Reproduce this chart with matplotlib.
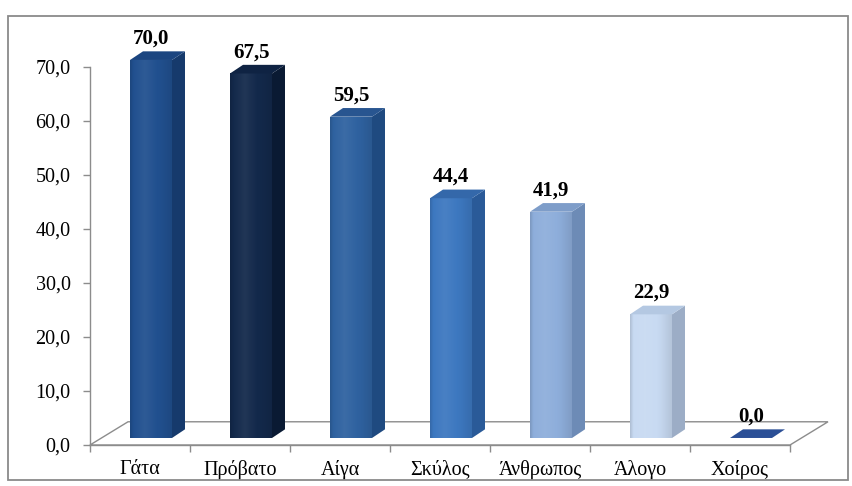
import numpy as np
import matplotlib.pyplot as plt
from matplotlib.patches import Polygon, Rectangle
from matplotlib.colors import to_rgb

plt.rcParams['font.family'] = ['Liberation Serif', 'DejaVu Serif']

categories = ['Γάτα', 'Πρόβατο', 'Αίγα', 'Σκύλος', 'Άνθρωπος', 'Άλογο', 'Χοίρος']
values = [70.0, 67.5, 59.5, 44.4, 41.9, 22.9, 0.0]
front_colors = ['#21508f', '#13294b', '#2f62a0', '#3d78c0', '#8eaedb', '#c8daf2', '#2b4f96']
side_colors = ['#163a6c', '#0a1a33', '#1f4a80', '#2a5a98', '#6d8bb6', '#9cadc6', '#1f3d78']
top_colors = ['#1b4580', '#0f2343', '#285590', '#3468aa', '#7e9dc9', '#b4c8e2', '#2b4f96']
yticks = [0, 10, 20, 30, 40, 50, 60, 70]

# pseudo-3d geometry, in data units
bar_w = 0.42
bar_ox, bar_oy = 0.11, 1.3    # shift of bar front plane from the floor front edge
bar_dx, bar_dy = 0.13, 1.6    # bar depth
floor_dx, floor_dy = 0.38, 4.3


def fmt(v):
    return f'{v:.1f}'.replace('.', ',')


def shade(c, k):
    r = np.array(to_rgb(c))
    if k >= 0:
        return r + (1 - r) * k
    return r * (1 + k)


fig = plt.figure(figsize=(8.52, 4.86), dpi=100)
ax = fig.add_axes([90 / 852, 41 / 486, 760 / 852, 405 / 486])
ax.set_xlim(0, 7.6)
ax.set_ylim(0, 75)

# chart frame
fig.add_artist(Rectangle((8 / 852, 6 / 486), 840 / 852, 464 / 486, transform=fig.transFigure,
                         fill=False, edgecolor='#8a8a8a', lw=1.3))

# floor
n = len(categories)
floor = Polygon([(0, 0), (n, 0), (n + floor_dx, floor_dy), (floor_dx, floor_dy)],
                closed=True, facecolor='white', edgecolor='#8c8c8c', lw=1.0,
                clip_on=False, zorder=1)
ax.add_patch(floor)

# horizontal gradient for front faces
gx = np.linspace(0, 1, 64)
gk = np.interp(gx, [0, 0.08, 0.35, 0.75, 1], [-0.12, 0.0, 0.06, -0.02, -0.1])

for i, (v, fc, sc, tc) in enumerate(zip(values, front_colors, side_colors, top_colors)):
    xl = i + 0.5 - bar_w / 2 + bar_ox
    xr = xl + bar_w
    y0 = bar_oy
    y1 = v + bar_oy
    if v > 0:
        front = Polygon([(xl, y0), (xr, y0), (xr, y1), (xl, y1)], closed=True,
                        facecolor=fc, edgecolor='none', clip_on=False, zorder=3)
        ax.add_patch(front)
        grad = np.array([shade(fc, k) for k in gk])[None, :, :]
        im = ax.imshow(np.clip(grad, 0, 1), extent=(xl, xr, y0, y1), aspect='auto',
                       zorder=3.1, clip_on=True)
        im.set_clip_path(front)
        side = Polygon([(xr, y0), (xr + bar_dx, y0 + bar_dy), (xr + bar_dx, y1 + bar_dy), (xr, y1)],
                       closed=True, facecolor=sc, edgecolor='none', clip_on=False, zorder=3)
        ax.add_patch(side)
    top = Polygon([(xl, y1), (xr, y1), (xr + bar_dx, y1 + bar_dy), (xl + bar_dx, y1 + bar_dy)],
                  closed=True, facecolor=tc, edgecolor='none', clip_on=False, zorder=3.2)
    ax.add_patch(top)
    ax.text((xl + xr) / 2, y1 + bar_dy + 0.5, fmt(v), ha='center', va='bottom',
            fontsize=15, fontweight='bold', color='black', zorder=5, clip_on=False)

ax.set_xlim(0, 7.6)
ax.set_ylim(0, 75)

for s in ['top', 'right']:
    ax.spines[s].set_visible(False)
ax.spines['left'].set_bounds(0, 70)
ax.spines['bottom'].set_bounds(0, n)
for s in ['left', 'bottom']:
    ax.spines[s].set_color('#8c8c8c')
    ax.spines[s].set_linewidth(1.0)

ax.set_yticks(yticks)
ax.set_yticklabels([fmt(t) for t in yticks])
ax.set_xticks(range(n + 1))
ax.set_xticklabels([])
ax.set_xticks(np.arange(n) + 0.5, minor=True)
ax.set_xticklabels(categories, minor=True)
ax.tick_params(axis='y', which='major', direction='out', length=5, width=1.0,
               color='#8c8c8c', labelsize=14.5, pad=9)
ax.tick_params(axis='x', which='major', direction='out', length=5, width=1.0, color='#8c8c8c')
ax.tick_params(axis='x', which='minor', length=0, labelsize=14.5, pad=11)
ax.patch.set_visible(False)

fig.savefig('out.png', dpi=100, facecolor='white')
